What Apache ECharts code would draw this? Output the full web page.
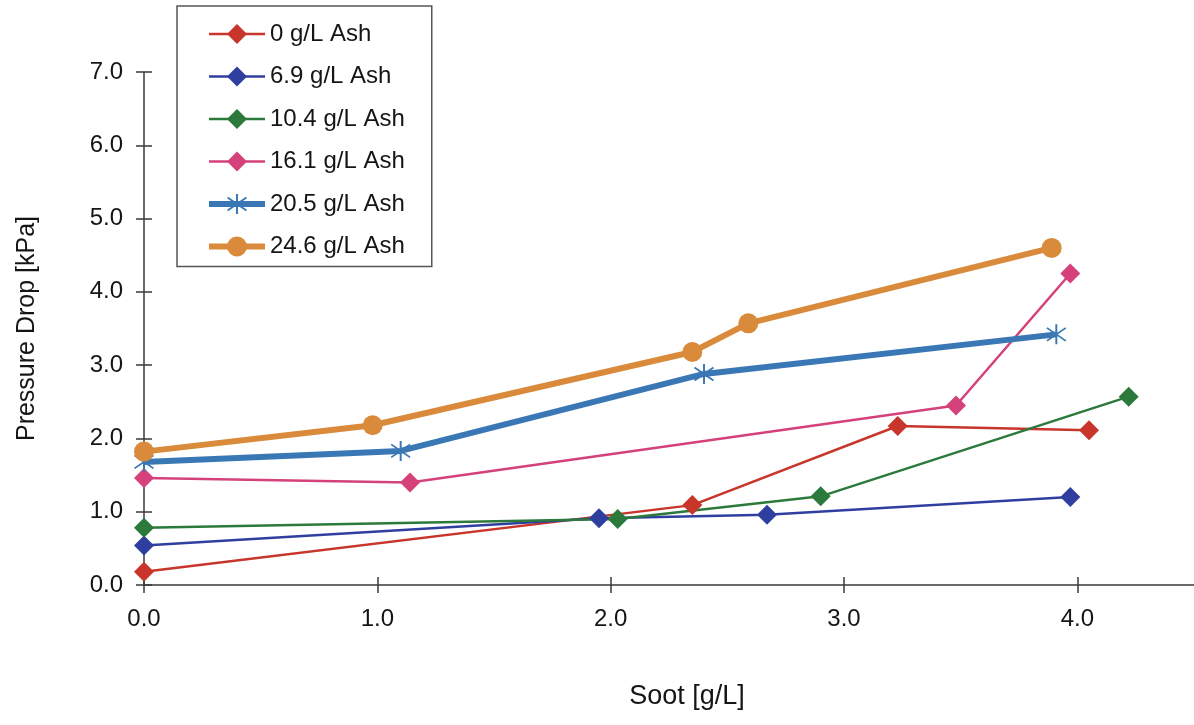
<!DOCTYPE html>
<html>
<head>
<meta charset="utf-8">
<script src="https://cdn.jsdelivr.net/npm/echarts@6/dist/echarts.min.js"></script>
<style>
  html, body { margin: 0; padding: 0; background: #fff; }
  #chart { width: 1194px; height: 725px; }
</style>
</head>
<body>
<div id="chart"></div>
<script>
// Pressure drop vs. soot load for several ash loadings: [soot g/L, dP kPa]
const ash0   = [[0.00, 0.18], [2.35, 1.09], [3.23, 2.17], [4.05, 2.11]];
const ash69  = [[0.00, 0.54], [1.95, 0.91], [2.67, 0.96], [3.97, 1.20]];
const ash104 = [[0.00, 0.78], [2.03, 0.90], [2.90, 1.21], [4.22, 2.57]];
const ash161 = [[0.00, 1.46], [1.14, 1.40], [3.48, 2.45], [3.97, 4.25]];
const ash205 = [[0.00, 1.68], [1.10, 1.83], [2.40, 2.88], [3.91, 3.42]];
const ash246 = [[0.00, 1.82], [0.98, 2.18], [2.35, 3.18], [2.59, 3.57], [3.89, 4.60]];

const seriesNames = ['0 g/L Ash', '6.9 g/L Ash', '10.4 g/L Ash', '16.1 g/L Ash', '20.5 g/L Ash', '24.6 g/L Ash'];
const seriesColors = ['#c8352b', '#2f3fa0', '#2b7a3b', '#d4417b', '#3a78b5', '#d98a3b'];
const lineWidths = [2.5, 2.5, 2.5, 2.5, 6, 6];
const xTicks = [0, 1, 2, 3, 4];
const yTicks = [0, 1, 2, 3, 4, 5, 6, 7];

const FONT = '"Liberation Sans", Arial, sans-serif';
const ASTERISK = 'path://M9.1,0H10.9V20H9.1Z M0.8,4.2L1.8,2.8L19.2,15.8L18.2,17.2Z M0.8,15.8L18.2,2.8L19.2,4.2L1.8,17.2Z';
const symbols = ['diamond', 'diamond', 'diamond', 'diamond', ASTERISK, 'circle'];
const seriesData = [ash0, ash69, ash104, ash161, ash205, ash246];

function lineSeries(i) {
  const color = seriesColors[i];
  return {
    name: seriesNames[i],
    type: 'line',
    data: seriesData[i],
    symbol: symbols[i],
    symbolSize: 20,
    showAllSymbol: true,
    color: color,
    lineStyle: { color: color, width: lineWidths[i] },
    itemStyle: { color: color, borderWidth: 0 },
    emphasis: { disabled: true },
    z: 3
  };
}

const chart = echarts.init(document.getElementById('chart'), null, { renderer: 'canvas' });

const tickStyle = { color: '#3a3a3a', width: 1.5 };

chart.setOption({
  animation: false,
  backgroundColor: '#ffffff',
  textStyle: { fontFamily: FONT },
  grid: { left: 144, right: 0, top: 72, bottom: 140, containLabel: false },
  legend: {
    orient: 'vertical',
    left: 177,
    top: 6,
    padding: [16, 27, 8, 29],
    itemWidth: 56,
    itemHeight: 25,
    itemGap: 18.5,
    borderColor: '#555555',
    borderWidth: 1.5,
    backgroundColor: '#ffffff',
    textStyle: { fontFamily: FONT, fontSize: 24, color: '#151515' },
    data: seriesNames.map((n, i) => ({ name: n, lineStyle: { width: lineWidths[i] } }))
  },
  xAxis: [
    {
      type: 'value',
      min: 0, max: 4.5, interval: 1,
      name: 'Soot [g/L]',
      nameLocation: 'middle',
      nameGap: 98,
      nameTextStyle: { fontFamily: FONT, fontSize: 27, color: '#151515', padding: [0, 0, 0, 36] },
      axisLine: { show: true, lineStyle: tickStyle },
      axisTick: { show: true, length: 8, customValues: xTicks, lineStyle: tickStyle },
      axisLabel: {
        customValues: xTicks, margin: 22, fontSize: 24, color: '#151515',
        formatter: v => v.toFixed(1)
      },
      splitLine: { show: false }
    },
    {
      type: 'value', min: 0, max: 4.5, interval: 1, position: 'bottom',
      axisLine: { show: false },
      axisTick: { show: true, inside: true, length: 8, customValues: xTicks, lineStyle: tickStyle },
      axisLabel: { show: false },
      splitLine: { show: false }
    }
  ],
  yAxis: [
    {
      type: 'value',
      min: 0, max: 7, interval: 1,
      name: 'Pressure Drop [kPa]',
      nameLocation: 'middle',
      nameRotate: 90,
      nameGap: 104,
      nameTextStyle: { fontFamily: FONT, fontSize: 25, color: '#151515' },
      axisLine: { show: true, lineStyle: tickStyle },
      axisTick: { show: true, length: 8, customValues: yTicks, lineStyle: tickStyle },
      axisLabel: { margin: 21, fontSize: 24, color: '#151515', formatter: v => v.toFixed(1) },
      splitLine: { show: false }
    },
    {
      type: 'value', min: 0, max: 7, interval: 1, position: 'left',
      axisLine: { show: false },
      axisTick: { show: true, inside: true, length: 8, customValues: yTicks, lineStyle: tickStyle },
      axisLabel: { show: false },
      splitLine: { show: false }
    }
  ],
  series: seriesNames.map((n, i) => lineSeries(i))
});
</script>
</body>
</html>
